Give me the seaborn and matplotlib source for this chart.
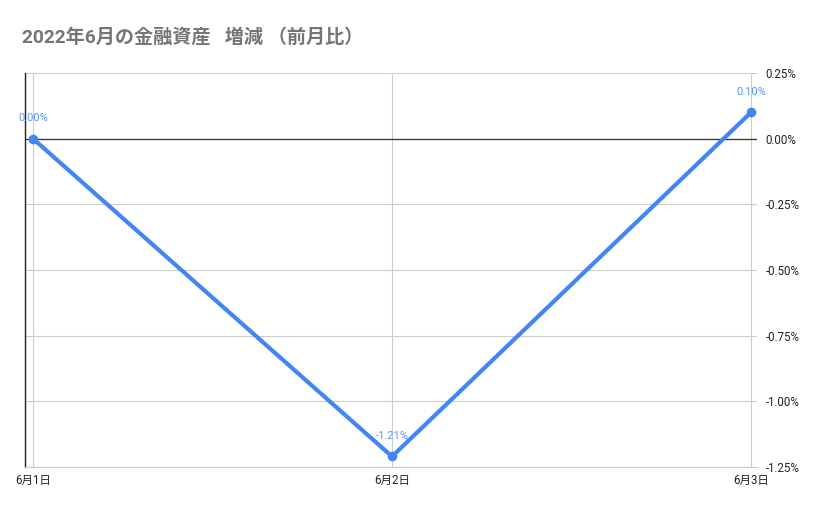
import matplotlib
matplotlib.use("Agg")
import matplotlib.pyplot as plt
import seaborn as sns
import pandas as pd
from matplotlib.ticker import FuncFormatter

# Chart data
dates = ["6月1日", "6月2日", "6月3日"]
change_pct = [0.00, -1.21, 0.10]
y_ticks = [0.25, 0.00, -0.25, -0.50, -0.75, -1.00, -1.25]

df = pd.DataFrame({"pos": range(len(dates)), "change": change_pct})

sns.set_style("white")
plt.rcParams["font.family"] = ["Roboto", "Noto Sans CJK JP", "DejaVu Sans"]

fig = plt.figure(figsize=(8.29, 5.14), dpi=100)
ax = fig.add_axes([25 / 829, 1 - 467 / 514, 732 / 829, 394 / 514])

line_color = "#4285F4"
sns.lineplot(data=df, x="pos", y="change", ax=ax, color=line_color,
             linewidth=3, marker="o", markersize=7, markeredgewidth=0, zorder=3)

# Data labels above each point
for x, y in zip(df["pos"], df["change"]):
    ax.annotate(f"{y:.2f}%", (x, y), xytext=(0, 15), textcoords="offset points",
                ha="center", va="center", fontsize=8, color="#5b95f5")

ax.set_xlim(-0.0223, 2.0167)
ax.set_ylim(-1.25, 0.25)
ax.set_xticks(df["pos"])
ax.set_xticklabels(dates)
ax.set_yticks(y_ticks)
ax.yaxis.set_major_formatter(FuncFormatter(lambda v, p: f"{v:.2f}%"))
ax.yaxis.tick_right()
ax.tick_params(axis="both", length=0, labelsize=8.3, colors="#222222")
ax.tick_params(axis="y", pad=6)
ax.tick_params(axis="x", pad=5)

ax.grid(True, color="#cccccc", linewidth=0.8)
ax.axhline(0, color="#333333", linewidth=0.9, zorder=2)
ax.set_xlabel("")
ax.set_ylabel("")

for side in ["top", "right"]:
    ax.spines[side].set_visible(False)
ax.spines["bottom"].set_color("#cccccc")
ax.spines["left"].set_color("#222222")
ax.spines["left"].set_linewidth(1)

fig.text(22 / 829, 1 - 37 / 514, "2022年6月の金融資産   増減 （前月比）",
         fontsize=13.8, fontweight="bold", color="#757575", ha="left", va="center")

fig.savefig("out.png", dpi=100)
